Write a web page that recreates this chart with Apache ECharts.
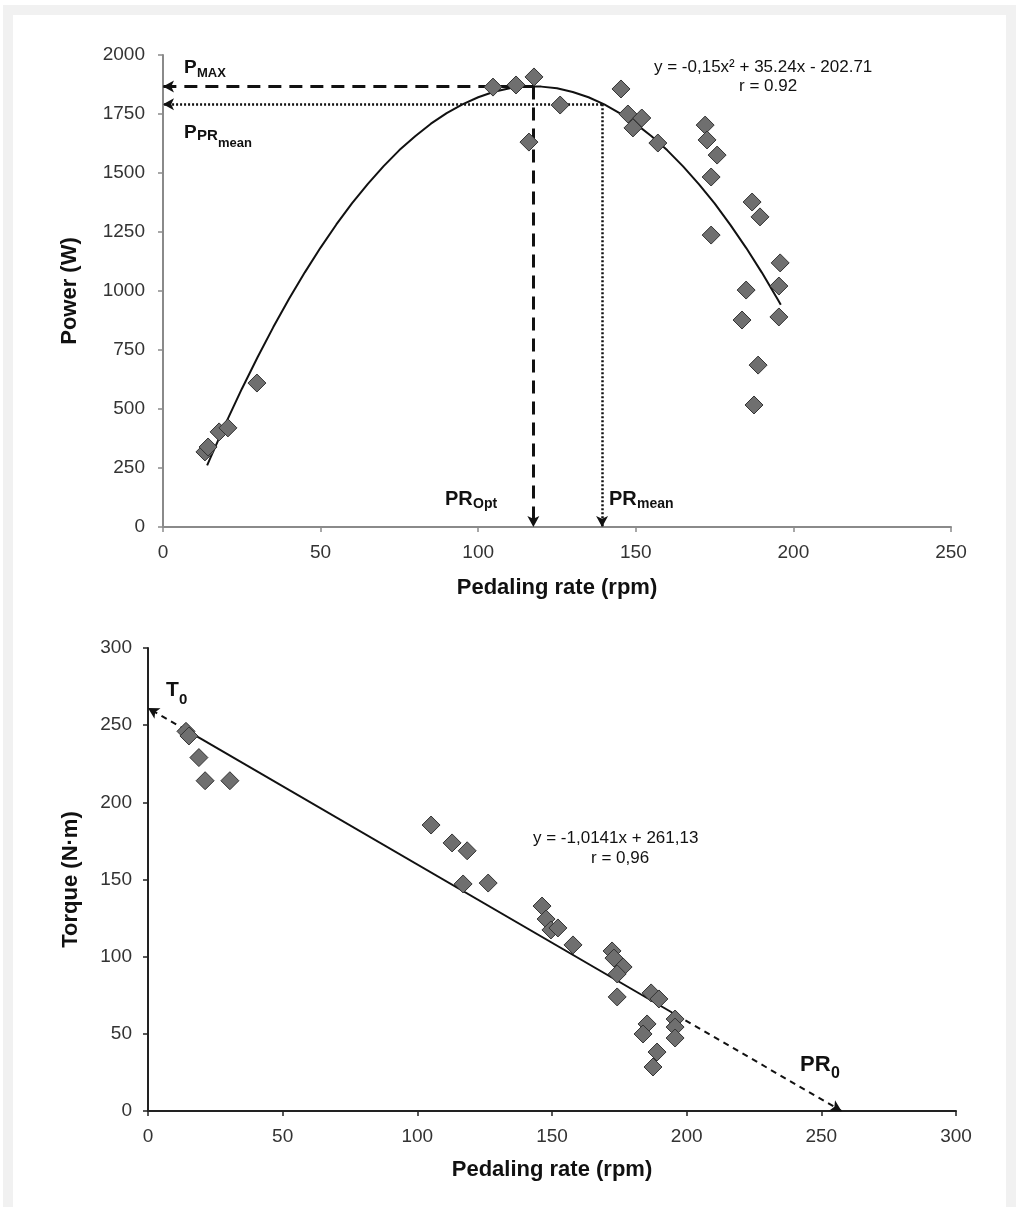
<!DOCTYPE html>
<html>
<head>
<meta charset="utf-8">
<script src="https://cdn.jsdelivr.net/npm/echarts@6/dist/echarts.min.js"></script>
<style>
  html, body { margin: 0; padding: 0; background: #fff; }
  #chart { width: 1019px; height: 1207px; }
</style>
</head>
<body>
<div id="chart"></div>
<script>
// top panel: power vs pedaling rate
const powerRpm = [13.3, 14.3, 17.8, 20.6, 29.8, 104.7, 112, 117.7, 116.1, 126, 145.3, 147.5, 149.1, 151.9, 157,
    172, 172.6, 175.8, 173.9, 173.9, 186.9, 189.4, 185, 183.7, 195.8, 195.4, 195.4, 188.8, 187.5];
const powerW = [318, 339, 403, 420, 610, 1864, 1873, 1907, 1631, 1788, 1856, 1750, 1691, 1733, 1627,
    1703, 1640, 1576, 1483, 1237, 1377, 1314, 1004, 877, 1119, 1021, 890, 686, 517];
// y = -0,15x² + 35.24x - 202.71
const fitRpm = [14, 15, 20, 25, 30, 35, 40, 45, 50, 55, 60, 65, 70, 75, 80, 85, 90, 95, 100, 105, 110,
    115, 120, 125, 130, 135, 140, 145, 150, 155, 160, 165, 170, 175, 180, 185, 190, 195, 196];
const fitPower = [261, 292, 442, 585, 719, 847, 967, 1079, 1184, 1282, 1372, 1454, 1529, 1597, 1656, 1709,
    1754, 1791, 1821, 1844, 1859, 1866, 1866, 1859, 1843, 1821, 1791, 1753, 1708, 1656, 1596, 1528, 1453,
    1371, 1280, 1183, 1078, 965, 942];
const pMax = 1867, prOpt = 117.5;
const pPrMean = 1791, prMean = 139.3;

// bottom panel: torque vs pedaling rate
const torqueRpm = [14.1, 15.2, 18.9, 21.2, 30.4, 105.1, 112.9, 118.5, 117.0, 126.3, 146.3, 147.8, 149.6, 152.2,
    157.8, 172.3, 173.0, 176.4, 174.2, 174.2, 186.8, 189.7, 195.7, 195.7, 195.7, 185.3, 183.8, 189.0, 187.5];
const torqueNm = [246, 243, 229, 214, 214, 185.3, 173.7, 168.6, 147.1, 147.7, 132.8, 124.4, 117.3, 118.6,
    107.6, 103.7, 99.1, 93.3, 88.8, 73.9, 76.5, 72.6, 59.6, 54.4, 47.3, 56.4, 49.9, 38.2, 28.5];
// y = -1,0141x + 261,13
const lineRpm = [14, 196];
const lineNm = [246.93, 62.37];
const t0 = 261.13, pr0 = 257.5;

const topXTicks = [0, 50, 100, 150, 200, 250];
const topYTicks = [0, 250, 500, 750, 1000, 1250, 1500, 1750, 2000];
const botXTicks = [0, 50, 100, 150, 200, 250, 300];
const botYTicks = [0, 50, 100, 150, 200, 250, 300];

const FONT = 'Liberation Sans, Arial, sans-serif';
const zip = (a, b) => a.map((v, i) => [v, b[i]]);

function axis(ticks, gridIndex, name, nameGap, lineColor, labelMargin) {
    return {
        type: 'value',
        gridIndex: gridIndex,
        min: ticks[0],
        max: ticks[ticks.length - 1],
        interval: ticks[1] - ticks[0],
        name: name,
        nameLocation: 'middle',
        nameGap: nameGap,
        nameTextStyle: { fontFamily: FONT, fontSize: 22, fontWeight: 'bold', color: '#111' },
        axisLine: { show: true, onZero: false, lineStyle: { color: lineColor, width: 2 } },
        axisTick: { show: true, length: 5, lineStyle: { color: lineColor, width: 1.5 } },
        axisLabel: {
            fontFamily: FONT, fontSize: 19, color: '#333', margin: labelMargin,
            formatter: v => String(v)
        },
        splitLine: { show: false }
    };
}

const diamond = {
    symbol: 'diamond',
    symbolSize: 18,
    itemStyle: { color: '#6f6f6f', borderColor: '#333', borderWidth: 1, opacity: 1 }
};

function arrowLine(from, to, type, width) {
    return {
        silent: true,
        symbol: ['none', 'arrow'],
        symbolSize: [9, 11],
        label: { show: false },
        lineStyle: { color: '#111', type: type, width: width },
        emphasis: { disabled: true },
        data: [[{ coord: from }, { coord: to }]]
    };
}

function txt(x, y, text, size, weight) {
    return {
        type: 'text', x: x, y: y, z: 50,
        style: { text: text, font: (weight || 'normal') + ' ' + size + 'px ' + FONT, fill: '#111' }
    };
}

const chart = echarts.init(document.getElementById('chart'));

chart.setOption({
    animation: false,
    backgroundColor: '#fff',
    grid: [
        { left: 163, top: 55, width: 788, height: 472 },
        { left: 148, top: 648, width: 808, height: 463 }
    ],
    xAxis: [
        axis(topXTicks, 0, 'Pedaling rate (rpm)', 50, '#8a8a8a', 16),
        axis(botXTicks, 1, 'Pedaling rate (rpm)', 48, '#222', 16)
    ],
    yAxis: [
        axis(topYTicks, 0, 'Power (W)', 82, '#8a8a8a', 18),
        axis(botYTicks, 1, 'Torque (N·m)', 66, '#222', 16)
    ],
    series: [
        {
            type: 'line', xAxisIndex: 0, yAxisIndex: 0,
            data: zip(fitRpm, fitPower), showSymbol: false,
            lineStyle: { color: '#111', width: 2 }, silent: true, z: 3
        },
        {
            type: 'line', xAxisIndex: 0, yAxisIndex: 0, data: [], z: 4,
            markLine: arrowLine([prOpt, pMax], [0, pMax], [13, 8], 3)
        },
        {
            type: 'line', xAxisIndex: 0, yAxisIndex: 0, data: [], z: 4,
            markLine: arrowLine([prOpt, pMax], [prOpt, 0], [13, 8], 3)
        },
        {
            type: 'line', xAxisIndex: 0, yAxisIndex: 0, data: [], z: 4,
            markLine: arrowLine([prMean, pPrMean], [0, pPrMean], [2, 2], 2.5)
        },
        {
            type: 'line', xAxisIndex: 0, yAxisIndex: 0, data: [], z: 4,
            markLine: arrowLine([prMean, pPrMean], [prMean, 0], [2, 2], 2.5)
        },
        Object.assign({ type: 'scatter', xAxisIndex: 0, yAxisIndex: 0, data: zip(powerRpm, powerW), z: 5 }, diamond),

        {
            type: 'line', xAxisIndex: 1, yAxisIndex: 1,
            data: zip(lineRpm, lineNm), showSymbol: false,
            lineStyle: { color: '#111', width: 2 }, silent: true, z: 3
        },
        {
            type: 'line', xAxisIndex: 1, yAxisIndex: 1, data: [], z: 4,
            markLine: arrowLine([lineRpm[0], lineNm[0]], [0, t0], [6, 5], 2)
        },
        {
            type: 'line', xAxisIndex: 1, yAxisIndex: 1, data: [], z: 4,
            markLine: arrowLine([lineRpm[1], lineNm[1]], [pr0, 0], [6, 5], 2)
        },
        Object.assign({ type: 'scatter', xAxisIndex: 1, yAxisIndex: 1, data: zip(torqueRpm, torqueNm), z: 5 }, diamond)
    ],
    graphic: [
        {
            type: 'rect', z: -10, silent: true,
            shape: { x: 8, y: 10, width: 1003, height: 1220 },
            style: { fill: 'none', stroke: '#f1f1f1', lineWidth: 10 }
        },
        // top panel labels
        txt(184, 58, 'P', 19, 'bold'),
        txt(197, 67, 'MAX', 13, 'bold'),
        txt(184, 123, 'P', 19, 'bold'),
        txt(197, 128, 'PR', 15, 'bold'),
        txt(218, 137, 'mean', 13, 'bold'),
        txt(445, 489, 'PR', 20, 'bold'),
        txt(473, 497, 'Opt', 14, 'bold'),
        txt(609, 489, 'PR', 20, 'bold'),
        txt(637, 497, 'mean', 14, 'bold'),
        txt(654, 59, 'y = -0,15x² + 35.24x - 202.71', 17),
        txt(739, 78, 'r = 0.92', 17),
        // bottom panel labels
        txt(166, 680, 'T', 21, 'bold'),
        txt(179, 692, '0', 15, 'bold'),
        txt(800, 1054, 'PR', 22, 'bold'),
        txt(831, 1066, '0', 16, 'bold'),
        txt(533, 830, 'y = -1,0141x + 261,13', 17),
        txt(591, 850, 'r = 0,96', 17)
    ]
});
</script>
</body>
</html>
